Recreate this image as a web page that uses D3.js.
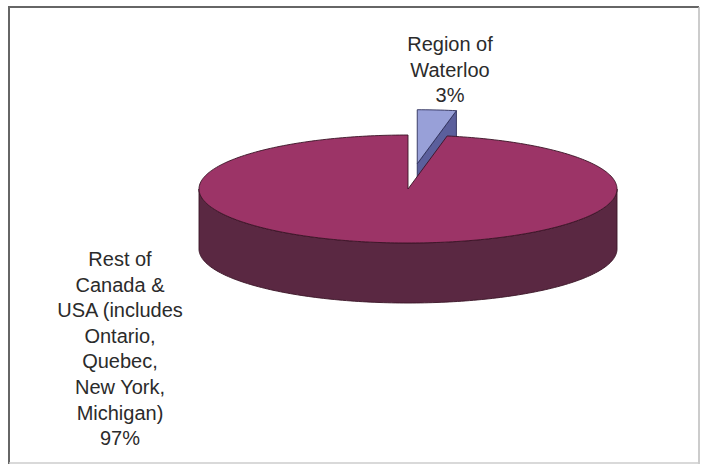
<!DOCTYPE html>
<html><head><meta charset="utf-8">
<script src="https://cdn.jsdelivr.net/npm/d3@7"></script>
<style>html,body{margin:0;padding:0;background:#fff;}svg{display:block;}</style>
</head><body>
<svg id="chart" width="701" height="466"></svg>
<script>
const categories = ["Region of Waterloo", "Rest of Canada & USA (includes Ontario, Quebec, New York, Michigan)"];
const values = [3, 97];
const labelLines = [
  ["Region of", "Waterloo", "3%"],
  ["Rest of", "Canada &", "USA (includes", "Ontario,", "Quebec,", "New York,", "Michigan)", "97%"]
];
const exploded = [true, false];

const topColors = ["#98a0d8", "#9c3467"];
const sideColors = ["#5b5f9c", "#5a2842"];
const strokeColors = ["#2e2f5a", "#3a1426"];

const svg = d3.select("#chart");
const W = 701, H = 466;

// frame
svg.append("line").attr("x1", 9).attr("y1", 7).attr("x2", 699).attr("y2", 7).attr("stroke", "#666").attr("stroke-width", 2);
svg.append("line").attr("x1", 9).attr("y1", 6).attr("x2", 9).attr("y2", 464).attr("stroke", "#666").attr("stroke-width", 2);
svg.append("line").attr("x1", 699).attr("y1", 7).attr("x2", 699).attr("y2", 464).attr("stroke", "#bbb").attr("stroke-width", 1.5);
svg.append("line").attr("x1", 9).attr("y1", 463).attr("x2", 699).attr("y2", 463).attr("stroke", "#ccc").attr("stroke-width", 1.5);

const cx = 408, cy = 189, rx = 209, ry = 54, depth = 60, explodeK = 0.47;

const pie = d3.pie().sort(null).value(d => d).startAngle(0).endAngle(2 * Math.PI);
const arcs = pie(values);

function pt(a, ox, oy, dz) {
  return [ox + rx * Math.sin(a), oy - ry * Math.cos(a) + (dz || 0)];
}
function arcPts(a0, a1, ox, oy, dz) {
  const n = Math.max(2, Math.ceil(Math.abs(a1 - a0) / 0.02));
  const out = [];
  for (let i = 0; i <= n; i++) out.push(pt(a0 + (a1 - a0) * i / n, ox, oy, dz));
  return out;
}
const line = d3.line();

const slices = arcs.map((a, i) => {
  const mid = (a.startAngle + a.endAngle) / 2;
  const ox = cx + (exploded[i] ? rx * explodeK * Math.sin(mid) : 0);
  const oy = cy - (exploded[i] ? ry * explodeK * Math.cos(mid) : 0);
  return { a, i, ox, oy };
});

// draw exploded (back) slices first
const order = slices.slice().sort((p, q) => (exploded[q.i] ? 1 : 0) - (exploded[p.i] ? 1 : 0));
const g = svg.append("g");
order.forEach(s => {
  const { a, i, ox, oy } = s;
  const gs = g.append("g");
  const sw = 0.9;
  // outer side (front-facing portion: angles between PI/2 and 3PI/2)
  const v0 = Math.max(a.startAngle, Math.PI / 2), v1 = Math.min(a.endAngle, 3 * Math.PI / 2);
  if (v1 > v0) {
    const p = arcPts(v0, v1, ox, oy, 0).concat(arcPts(v1, v0, ox, oy, depth));
    gs.append("path").attr("d", line(p) + "Z").attr("fill", sideColors[i]).attr("stroke", strokeColors[i]).attr("stroke-width", sw);
  }
  // start face
  if (Math.sin(a.startAngle) < -1e-6) {
    const r = pt(a.startAngle, ox, oy, 0), rb = pt(a.startAngle, ox, oy, depth);
    gs.append("path").attr("d", line([[ox, oy], r, rb, [ox, oy + depth]]) + "Z").attr("fill", sideColors[i]).attr("stroke", strokeColors[i]).attr("stroke-width", sw);
  }
  // end face
  if (Math.sin(a.endAngle) > 1e-6) {
    const r = pt(a.endAngle, ox, oy, 0), rb = pt(a.endAngle, ox, oy, depth);
    gs.append("path").attr("d", line([[ox, oy], r, rb, [ox, oy + depth]]) + "Z").attr("fill", sideColors[i]).attr("stroke", strokeColors[i]).attr("stroke-width", sw);
  }
  // top face
  const tp = [[ox, oy]].concat(arcPts(a.startAngle, a.endAngle, ox, oy, 0));
  gs.append("path").attr("d", line(tp) + "Z").attr("fill", topColors[i]).attr("stroke", strokeColors[i]).attr("stroke-width", sw).attr("stroke-linejoin", "round");
});

// labels
const labelPos = [[450, 51], [120, 266]];
const lh = 25.6;
labelLines.forEach((lines, i) => {
  const t = svg.append("text").attr("font-family", "Liberation Sans, Arial, sans-serif").attr("font-size", 20)
    .attr("fill", "#2b2b2b").attr("text-anchor", "middle");
  lines.forEach((l, j) => {
    t.append("tspan").attr("x", labelPos[i][0]).attr("y", labelPos[i][1] + j * lh).text(l);
  });
});
</script>
</body></html>
